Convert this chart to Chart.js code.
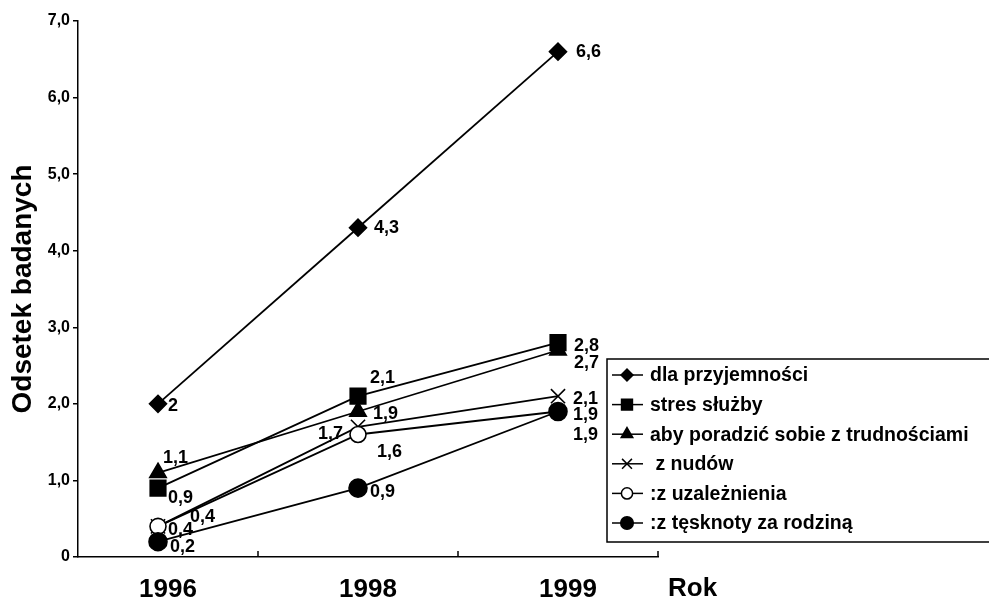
<!DOCTYPE html>
<html lang="pl">
<head>
<meta charset="utf-8">
<title>Odsetek badanych</title>
<script src="https://cdn.jsdelivr.net/npm/chart.js@4.4.1/dist/chart.umd.min.js"></script>
<style>
  html, body { margin: 0; padding: 0; background: #fff; }
  #wrap { width: 989px; height: 607px; position: relative; }
</style>
</head>
<body>
<div id="wrap"><canvas id="motivesChart"></canvas></div>
<script>
// values
var years = ['1996', '1998', '1999'];
var yTickLabels = ['0', '1,0', '2,0', '3,0', '4,0', '5,0', '6,0', '7,0'];
var seriesNames = ['dla przyjemności', 'stres służby', 'aby poradzić sobie z trudnościami',
                   ' z nudów', ':z uzależnienia', ':z tęsknoty za rodziną'];
var przyjemnosc = [2.0, 4.3, 6.6];
var stres = [0.9, 2.1, 2.8];
var trudnosci = [1.1, 1.9, 2.7];
var nuda = [0.4, 1.7, 2.1];
var uzaleznienie = [0.4, 1.6, 1.9];
var tesknota = [0.2, 0.9, 1.9];

var FONT = '"Liberation Sans", Arial, sans-serif';

// marker look per series
var markers = [
  { style: 'rectRot', radius: 8.5, fill: '#000' },
  { style: 'rect', radius: 11, fill: '#000' },
  { style: 'triangle', radius: 9.5, fill: '#000' },
  { style: 'crossRot', radius: 10, fill: '#000' },
  { style: 'circle', radius: 8, fill: '#fff' },
  { style: 'circle', radius: 9, fill: '#000' }
];

// where each value label sits relative to its point: [dx, dy, align]
var labelOffsets = [
  [[10, 2, 'left'], [16, 0, 'left'], [18, 0, 'left']],
  [[10, 10, 'left'], [12, -18, 'left'], [16, 3, 'left']],
  [[5, -15, 'left'], [15, 3, 'left'], [16, 13, 'left']],
  [[32, -9, 'left'], [-15, 7, 'right'], [15, 3, 'left']],
  [[10, 4, 'left'], [19, 18, 'left'], [15, 24, 'left']],
  [[12, 5, 'left'], [12, 4, 'left'], [15, 4, 'left']]
];

function formatValue(v) {
  return Number.isInteger(v) ? String(v) : v.toFixed(1).replace('.', ',');
}

var allSeries = [przyjemnosc, stres, trudnosci, nuda, uzaleznienie, tesknota];

var datasets = allSeries.map(function(values, i) {
  return {
    label: seriesNames[i],
    data: values.map(function(v, j) { return { x: j, y: v }; }),
    borderColor: '#000',
    borderWidth: 1.8,
    backgroundColor: markers[i].fill,
    pointStyle: markers[i].style,
    pointRadius: markers[i].radius,
    pointBorderWidth: 1.6,
    pointBorderColor: '#000',
    pointBackgroundColor: markers[i].fill,
    tension: 0,
    order: allSeries.length - i
  };
});

var overlayPlugin = {
  id: 'overlay',
  afterDatasetsDraw: function(chart) {
    var ctx = chart.ctx;
    ctx.save();
    ctx.fillStyle = '#000';
    ctx.font = 'bold 18px ' + FONT;
    ctx.textBaseline = 'middle';
    chart.data.datasets.forEach(function(ds, i) {
      var meta = chart.getDatasetMeta(i);
      meta.data.forEach(function(pt, j) {
        var off = labelOffsets[i][j];
        ctx.textAlign = off[2];
        ctx.fillText(formatValue(ds.data[j].y), pt.x + off[0], pt.y + off[1]);
      });
    });
    ctx.restore();
  },
  afterDraw: function(chart) {
    var ctx = chart.ctx;
    var xs = chart.scales.x;
    var area = chart.chartArea;
    ctx.save();
    ctx.strokeStyle = '#000';
    ctx.fillStyle = '#000';
    ctx.lineWidth = 1.5;

    // small upward ticks between the years
    [0.5, 1.5, 2.5].forEach(function(v) {
      var px = xs.getPixelForValue(v);
      ctx.beginPath();
      ctx.moveTo(px, area.bottom);
      ctx.lineTo(px, area.bottom - 6);
      ctx.stroke();
    });

    // axis name at the end of the x axis
    ctx.font = 'bold 26px ' + FONT;
    ctx.textAlign = 'left';
    ctx.textBaseline = 'middle';
    ctx.fillText('Rok', area.right + 10, 589);

    // legend box
    var box = { left: 607, top: 359, bottom: 542, right: 992 };
    ctx.beginPath();
    ctx.moveTo(box.right, box.top);
    ctx.lineTo(box.left, box.top);
    ctx.lineTo(box.left, box.bottom);
    ctx.lineTo(box.right, box.bottom);
    ctx.stroke();

    ctx.font = 'bold 19.5px ' + FONT;
    chart.data.datasets.forEach(function(ds, i) {
      var y = 375 + i * 29.6;
      ctx.strokeStyle = '#000';
      ctx.lineWidth = 1.5;
      ctx.beginPath();
      ctx.moveTo(612, y);
      ctx.lineTo(643, y);
      ctx.stroke();
      ctx.fillStyle = markers[i].fill;
      Chart.helpers.drawPoint(ctx, {
        pointStyle: markers[i].style,
        radius: markers[i].radius * 0.7,
        rotation: 0,
        borderWidth: 1.5
      }, 627, y);
      ctx.fillStyle = '#000';
      ctx.fillText(ds.label, 650, y + 1);
    });
    ctx.restore();
  }
};

new Chart(document.getElementById('motivesChart'), {
  type: 'line',
  data: { datasets: datasets },
  plugins: [overlayPlugin],
  options: {
    responsive: true,
    maintainAspectRatio: false,
    animation: false,
    layout: { padding: { top: 21, right: 331, bottom: 0, left: 0 } },
    plugins: {
      legend: { display: false },
      tooltip: { enabled: false }
    },
    scales: {
      x: {
        type: 'linear',
        min: -0.4,
        max: 2.5,
        afterFit: function(scale) { scale.height = 50; },
        afterBuildTicks: function(scale) {
          scale.ticks = years.map(function(y, i) { return { value: i }; });
        },
        ticks: {
          color: '#000',
          padding: 17,
          labelOffset: 10,
          autoSkip: false,
          maxRotation: 0,
          font: { family: FONT, size: 26, weight: 'bold' },
          callback: function(value, index) { return years[index]; }
        },
        grid: { display: true, drawOnChartArea: false, drawTicks: false, color: '#000' },
        border: { display: true, color: '#000', width: 1.5 }
      },
      y: {
        min: 0,
        max: 7,
        afterFit: function(scale) { scale.width = 78; },
        afterBuildTicks: function(scale) {
          scale.ticks = yTickLabels.map(function(t, i) { return { value: i }; });
        },
        ticks: {
          color: '#000',
          padding: 3,
          font: { family: FONT, size: 16, weight: 'bold' },
          callback: function(value, index) { return yTickLabels[index]; }
        },
        grid: { drawOnChartArea: false, drawTicks: true, tickLength: 5, color: '#000', lineWidth: 1.5 },
        border: { display: true, color: '#000', width: 1.5 },
        title: {
          display: true,
          text: 'Odsetek badanych',
          color: '#000',
          padding: { top: 6, bottom: 0 },
          font: { family: FONT, size: 28, weight: 'bold' }
        }
      }
    }
  }
});
</script>
</body>
</html>
